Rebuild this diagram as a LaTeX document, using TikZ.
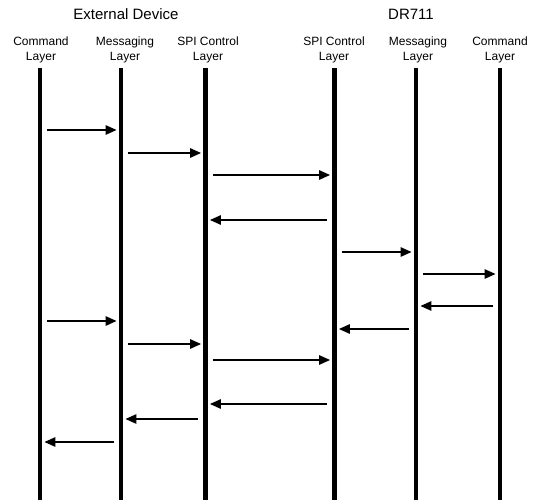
\documentclass[tikz,border=0pt]{standalone}
\usepackage{fontspec}
\setmainfont{Liberation Sans}
\usetikzlibrary{arrows.meta}
\begin{document}
\begin{tikzpicture}[x=1pt,y=-1pt,
  lifeline/.style={fill=black,draw=none,minimum width=4.5pt,minimum height=432pt,inner sep=0pt},
  msg/.style={line width=1.4pt,-{Triangle[length=11pt,width=9.5pt]},shorten >=2pt,shorten <=5pt},
  lbl/.style={font=\fontsize{12}{14.5}\selectfont,align=center,inner sep=0pt},
  ttl/.style={font=\fontsize{15}{17}\selectfont,inner sep=0pt}]
\useasboundingbox (0,0) rectangle (541,503);
\node[ttl] (t1) at (126,14) {External Device};
\node[ttl] (t2) at (411,14) {DR711};
\node[lbl] (l1) at (41,50) {Command\\Layer};
\node[lbl] (l2) at (125,50) {Messaging\\Layer};
\node[lbl] (l3) at (208,50) {SPI Control\\Layer};
\node[lbl] (l4) at (334,50) {SPI Control\\Layer};
\node[lbl] (l5) at (418,50) {Messaging\\Layer};
\node[lbl] (l6) at (500,50) {Command\\Layer};
\node[lifeline] (a1) at (40,284) {};
\node[lifeline] (a2) at (121,284) {};
\node[lifeline] (a3) at (205.5,284) {};
\node[lifeline] (b3) at (334.5,284) {};
\node[lifeline] (b2) at (416,284) {};
\node[lifeline] (b1) at (500,284) {};
% messages
\draw[msg] (a1.east |- 0,130) -- (a2.west |- 0,130);
\draw[msg] (a2.east |- 0,153) -- (a3.west |- 0,153);
\draw[msg] (a3.east |- 0,175) -- (b3.west |- 0,175);
\draw[msg] (b3.west |- 0,220) -- (a3.east |- 0,220);
\draw[msg] (b3.east |- 0,252) -- (b2.west |- 0,252);
\draw[msg] (b2.east |- 0,274) -- (b1.west |- 0,274);
\draw[msg] (b1.west |- 0,306) -- (b2.east |- 0,306);
\draw[msg] (b2.west |- 0,329) -- (b3.east |- 0,329);
\draw[msg] (a1.east |- 0,321) -- (a2.west |- 0,321);
\draw[msg] (a2.east |- 0,344) -- (a3.west |- 0,344);
\draw[msg] (a3.east |- 0,360) -- (b3.west |- 0,360);
\draw[msg] (b3.west |- 0,404) -- (a3.east |- 0,404);
\draw[msg] (a3.west |- 0,419) -- (a2.east |- 0,419);
\draw[msg] (a2.west |- 0,442) -- (a1.east |- 0,442);
\end{tikzpicture}
\end{document}
